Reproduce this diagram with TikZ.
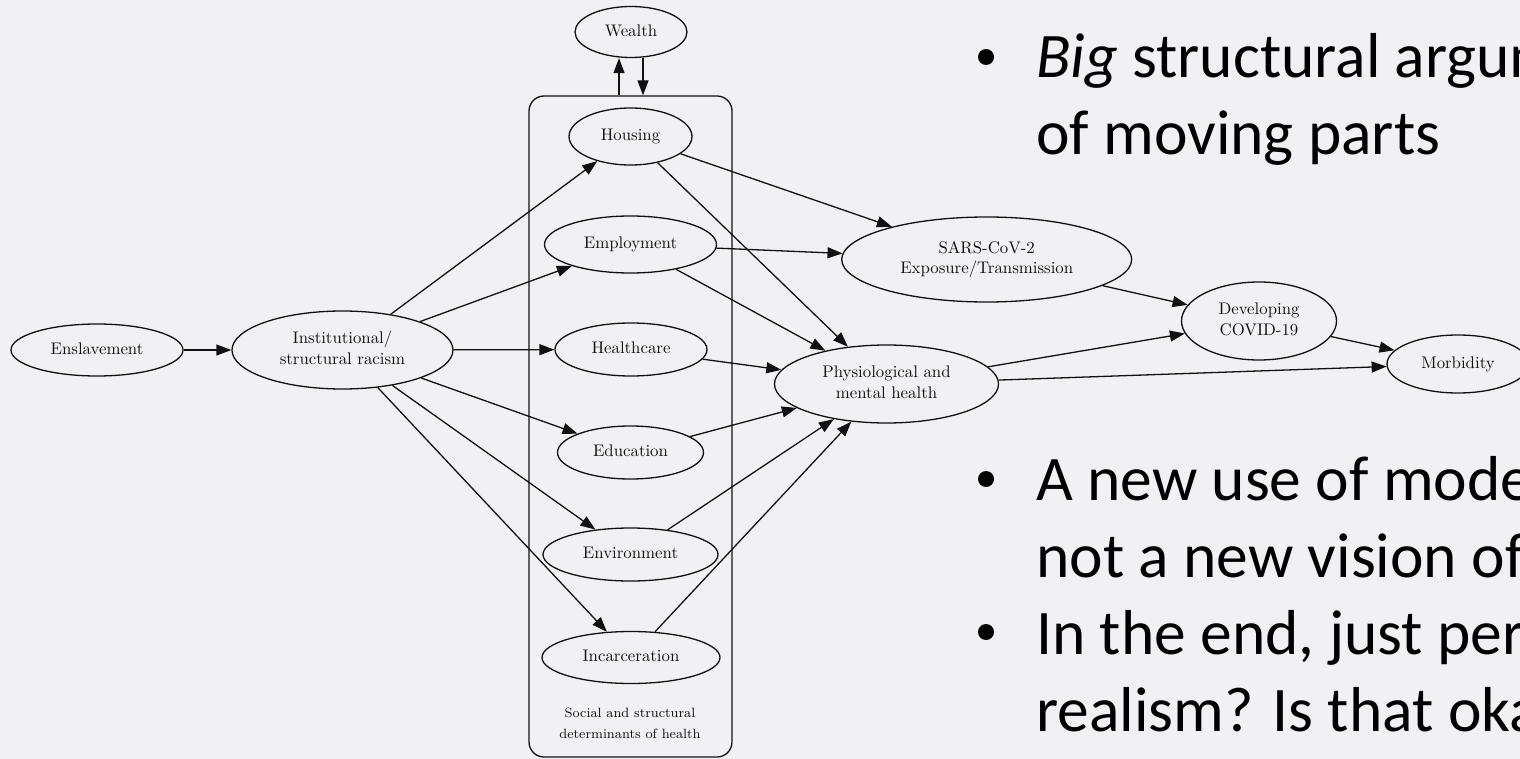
\documentclass[tikz,border=0pt]{standalone}
\usepackage{fontspec}
\usepackage{graphicx}
\usetikzlibrary{arrows.meta,shapes.geometric}
\newfontfamily\slidefont{Carlito}
% diagram labels: 10pt Latin Modern, enlarged
\newcommand{\dlabel}[1]{\scalebox{1.68}{\begin{tabular}{@{}c@{}}#1\end{tabular}}}
\definecolor{bgcol}{HTML}{F1F0F5}
\definecolor{inkcol}{HTML}{111111}
\begin{document}
\begin{tikzpicture}[x=1pt,y=-1pt,
  ell/.style={ellipse, draw=inkcol, line width=1.3pt, inner sep=0pt, text=inkcol},
  arr/.style={-{Triangle[length=15pt,width=11pt]}, line width=1.3pt, draw=inkcol},
  slide/.style={font=\slidefont\fontsize{63.5}{77}\selectfont, anchor=base west, inner sep=0pt, text=black},
  bulletdot/.style={circle, fill=black, inner sep=0pt, minimum size=16pt}
]
\path[use as bounding box, fill=bgcol] (0,0) rectangle (1520,759);
\clip (0,0) rectangle (1520,759);

% container of the social and structural determinants
\node[draw=inkcol, line width=1.3pt, rounded corners=15pt, minimum width=203pt, minimum height=661pt, inner sep=0pt] (sdoh) at (630.5,426.5) {};
\node[inner sep=0pt, text=inkcol] (sdohlabel) at (630,724) {\dlabel{\footnotesize Social and structural\\\footnotesize determinants of health}};

% nodes
\node[ell, minimum width=112pt, minimum height=51pt] (wealth) at (631,32) {\dlabel{Wealth}};
\node[ell, minimum width=123pt, minimum height=57pt] (housing) at (630.5,136.5) {\dlabel{Housing}};
\node[ell, minimum width=172pt, minimum height=57pt] (employ) at (630.5,244.5) {\dlabel{Employment}};
\node[ell, minimum width=152pt, minimum height=53pt] (health) at (631,349.5) {\dlabel{Healthcare}};
\node[ell, minimum width=146pt, minimum height=53pt] (educ) at (630.5,452.5) {\dlabel{Education}};
\node[ell, minimum width=175pt, minimum height=53pt] (envir) at (630.5,554.5) {\dlabel{Environment}};
\node[ell, minimum width=178pt, minimum height=52pt] (incarc) at (631,657.5) {\dlabel{Incarceration}};
\node[ell, minimum width=172pt, minimum height=52pt] (enslave) at (97,350) {\dlabel{Enslavement}};
\node[ell, minimum width=221pt, minimum height=78pt] (inst) at (342.5,350) {\dlabel{Institutional/\\structural racism}};
\node[ell, minimum width=224pt, minimum height=78pt] (physio) at (886.5,384) {\dlabel{Physiological and\\mental health}};
\node[ell, minimum width=290pt, minimum height=85pt] (sars) at (986.7,259.5) {\dlabel{SARS-CoV-2\\Exposure/Transmission}};
\node[ell, minimum width=155pt, minimum height=78pt] (devel) at (1259,321) {\dlabel{Developing\\COVID-19}};
\node[ell, minimum width=142pt, minimum height=58pt] (morb) at (1458,364) {\dlabel{Morbidity}};

% connectors
\draw[arr] ([xshift=-11.5pt]sdoh.north) -- ([xshift=-12pt]wealth.south);
\draw[arr] ([xshift=12pt]wealth.south) -- ([xshift=12.5pt]sdoh.north);
\draw[arr] (enslave) -- (inst);
\foreach \t in {housing,employ,health,educ,envir,incarc}
  \draw[arr] (inst) -- (\t);
\draw[arr] (housing) -- (sars);
\draw[arr] (housing) -- (physio);
\draw[arr] (employ) -- (sars);
\draw[arr] (employ) -- (physio);
\foreach \s in {health,educ,envir,incarc}
  \draw[arr] (\s) -- (physio);
\draw[arr] (sars) -- (devel);
\draw[arr] (physio) -- (devel);
\draw[arr] (physio) -- (morb);
\draw[arr] (devel) -- (morb);

% bullet text
\node[bulletdot] (b1) at (986,57) {};
\node[slide] (t1) at (1036,78) {\textit{Big} structural argument};
\node[slide] (t2) at (1036,155) {of moving parts};
\node[bulletdot] (b2) at (986,479) {};
\node[slide] (t3) at (1036,500) {A new use of models,};
\node[slide] (t4) at (1036,577) {not a new vision of};
\node[bulletdot] (b3) at (986,632) {};
\node[slide] (t5) at (1036,654) {In the end, just performative};
\node[slide] (t6) at (1036,731) {realism? Is that okay?};
\end{tikzpicture}
\end{document}
